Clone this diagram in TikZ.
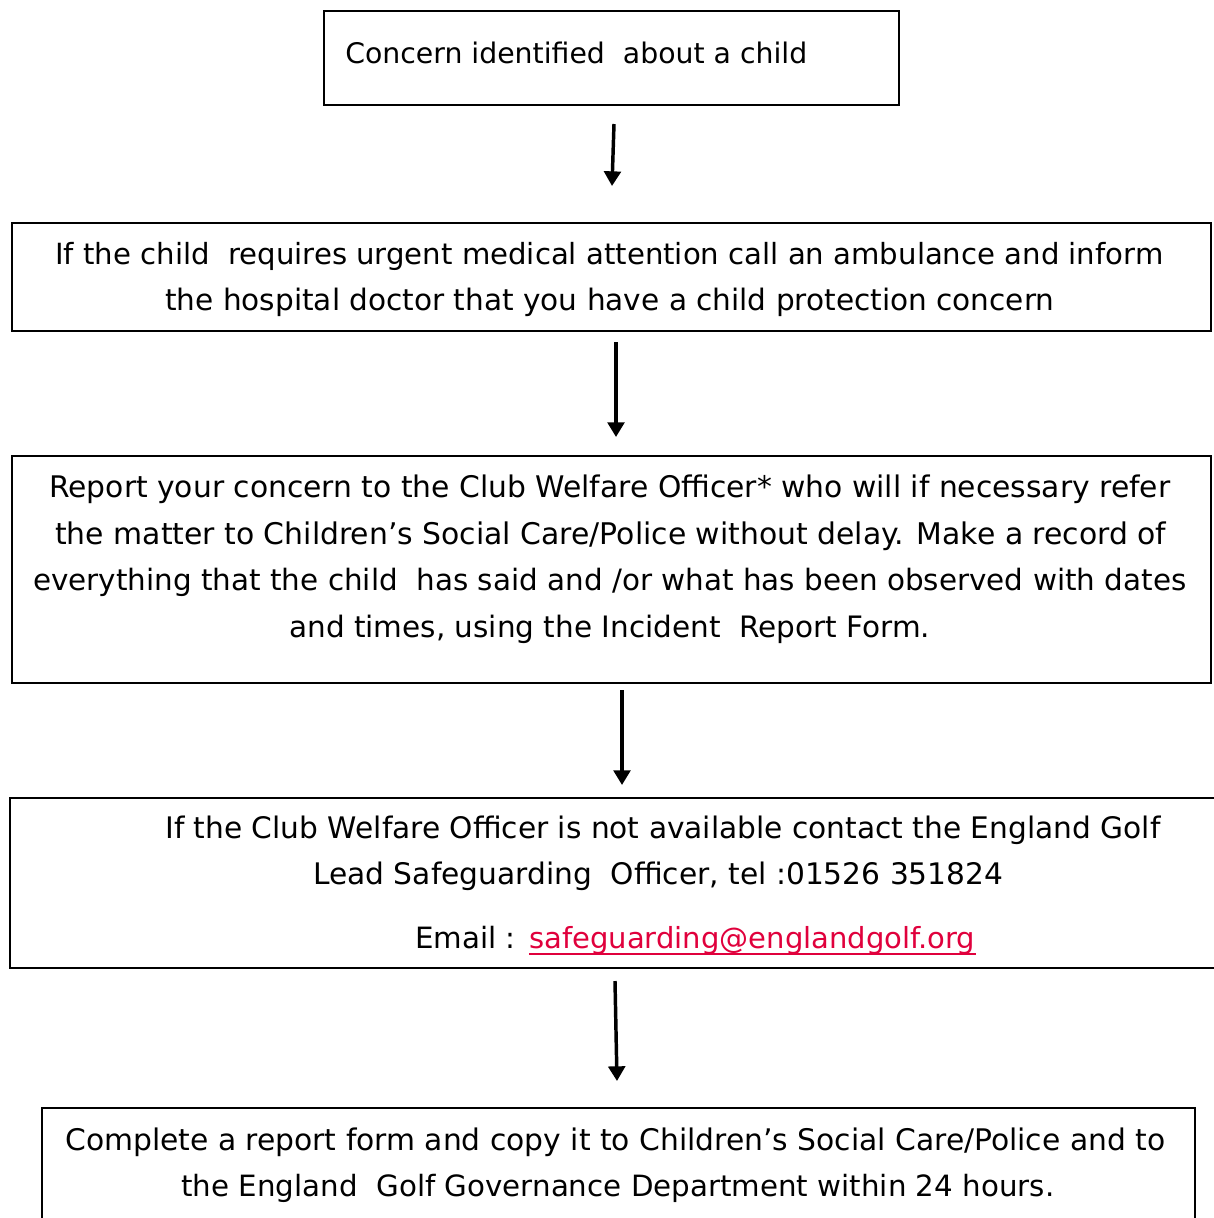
\documentclass[tikz,border=0pt]{standalone}
\usepackage{fontspec}
\setmainfont{DejaVu Sans}
\usetikzlibrary{arrows.meta}
\definecolor{linkred}{RGB}{224,0,60}
\newlength\pxu
\setlength\pxu{0.75pt}
\newcommand\fitw[2]{\resizebox{#1\pxu}{!}{#2}}
\tikzset{
  box/.style={draw=black, line width=1.6pt, anchor=north west, inner sep=0pt},
  txt/.style={anchor=base west, inner sep=0pt, font=\fontsize{22pt}{26pt}\selectfont},
  toptxt/.style={anchor=base west, inner sep=0pt, font=\fontsize{20pt}{24pt}\selectfont},
  flow/.style={line width=2.6pt, -{Triangle[width=12.5pt,length=11pt]}}
}
\begin{document}
\begin{tikzpicture}[x=0.75pt,y=-0.75pt]
\useasboundingbox (0,0) rectangle (1214,1218);
\begin{scope}
\clip (0,0) rectangle (1214,1218);
% boxes
\node[box, minimum width=575\pxu, minimum height=94\pxu] (b1) at (323,10) {};
\node[box, minimum width=1199\pxu, minimum height=108\pxu] (b2) at (11,222) {};
\node[box, minimum width=1199\pxu, minimum height=227\pxu] (b3) at (11,455) {};
\node[box, minimum width=1230\pxu, minimum height=170\pxu] (b4) at (9,797) {};
\node[box, minimum width=1153\pxu, minimum height=140\pxu] (b5) at (41,1107) {};
\end{scope}
% texts
\node[toptxt] (t1) at (345,63) {\fitw{462}{Concern identified\ \ about a child}};
\node[txt] (t2a) at (55,264) {\fitw{1108}{If the child\ \ requires urgent medical attention call an ambulance and inform}};
\node[txt] (t2b) at (165,310) {\fitw{889}{the hospital doctor that you have a child protection concern}};
\node[txt] (t3a) at (49,497) {\fitw{1121}{Report your concern to the Club Welfare Officer* who will if necessary refer}};
\node[txt] (t3b) at (55,544) {\fitw{1111}{the matter to Children’s Social Care/Police without delay. Make a record of}};
\node[txt] (t3c) at (33,590) {\fitw{1153}{everything that the child\ \ has said and /or what has been observed with dates}};
\node[txt] (t3d) at (289,637) {\fitw{641}{and times, using the Incident\ \ Report Form.}};
\node[txt] (t4a) at (165,838) {\fitw{995}{If the Club Welfare Officer is not available contact the England Golf}};
\node[txt] (t4b) at (313,884) {\fitw{690}{Lead Safeguarding\ \ Officer, tel :01526 351824}};
\node[txt] (t4c) at (415,948) {Email :};
\node[txt, text=linkred] (t4d) at (529,948) {\fitw{446}{safeguarding@englandgolf.org}};
\draw[linkred, line width=1.5pt] ([yshift=-4.2pt]t4d.base west) -- ([yshift=-4.2pt]t4d.base east);
\node[txt] (t5a) at (65,1150) {\fitw{1100}{Complete a report form and copy it to Children’s Social Care/Police and to}};
\node[txt] (t5b) at (181,1196) {\fitw{873}{the England\ \ Golf Governance Department within 24 hours.}};
% arrows
\coordinate (a1s) at (614,124); \coordinate (a1e) at (612,186);
\coordinate (a2s) at (616,342); \coordinate (a2e) at (616,437);
\coordinate (a3s) at (622,690); \coordinate (a3e) at (622,785);
\coordinate (a4s) at (615,981); \coordinate (a4e) at (617,1081);
\draw[flow] (a1s) -- (a1e);
\draw[flow] (a2s) -- (a2e);
\draw[flow] (a3s) -- (a3e);
\draw[flow] (a4s) -- (a4e);
\end{tikzpicture}
\end{document}
